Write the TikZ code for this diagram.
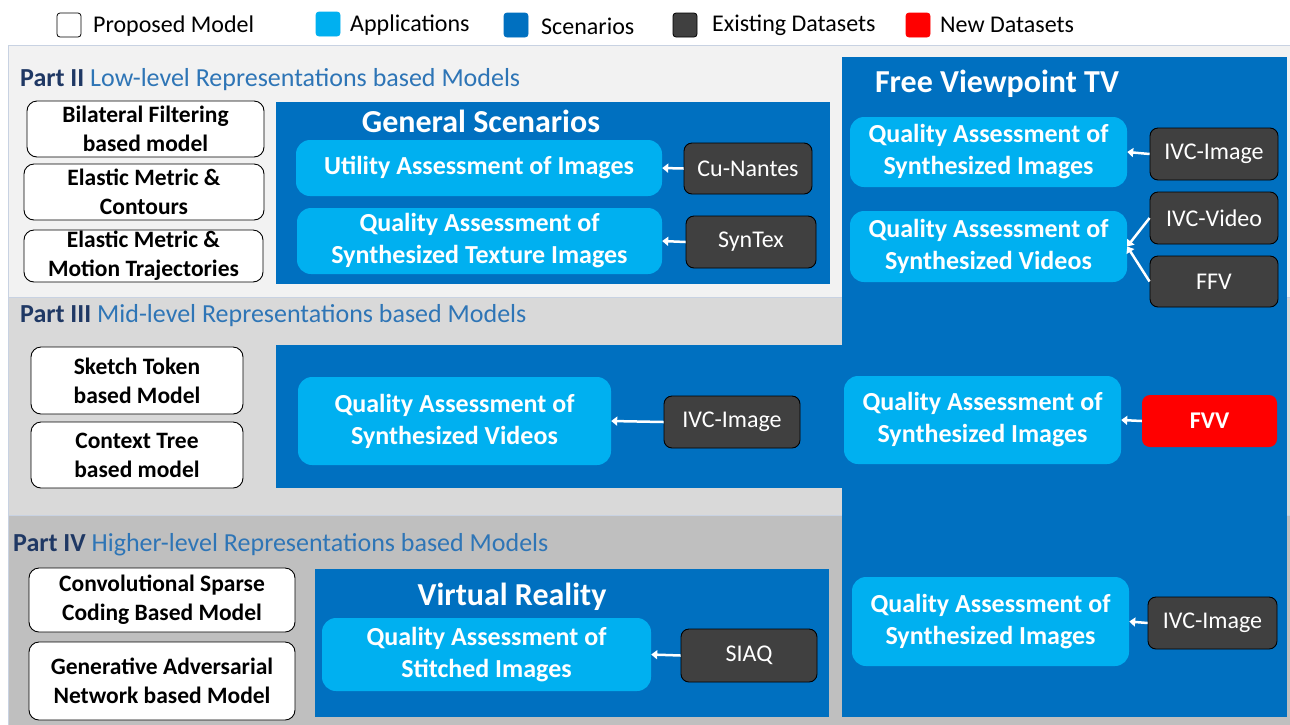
\documentclass[tikz,border=0pt]{standalone}
\usepackage{fontspec}
\setmainfont{Carlito}
\usetikzlibrary{arrows.meta}
\definecolor{ptwo}{HTML}{F2F2F2}
\definecolor{pthree}{HTML}{D9D9D9}
\definecolor{pfour}{HTML}{BFBFBF}
\definecolor{pline}{HTML}{C8D2E2}
\definecolor{scen}{HTML}{0070C0}
\definecolor{appc}{HTML}{00B0F0}
\definecolor{dsc}{HTML}{404040}
\definecolor{newc}{HTML}{FF0000}
\definecolor{navy}{HTML}{1F3864}
\definecolor{titleblue}{HTML}{2E75B6}
\newcommand{\placebox}[7]{\node[#1, minimum width={#5-#3}, minimum height={#6-#4}] (#2) at ({(#3+#5)/2},{(#4+#6)/2}) {#7};}
\begin{document}
\begin{tikzpicture}[x=1pt,y=-1pt,
  legsq/.style={minimum size=24pt, inner sep=0pt, rounded corners=3pt, line width=0.8pt},
  legtxt/.style={anchor=west, inner sep=0pt, font=\fontsize{24}{28}\selectfont},
  parttitle/.style={anchor=west, inner sep=0pt, font=\fontsize{26}{30}\selectfont},
  scentitle/.style={inner sep=0pt, text=white, font=\bfseries\fontsize{32}{36}\selectfont},
  modelbox/.style={draw=black, fill=white, line width=0.9pt, rounded corners=10pt, inner sep=0pt, align=center, font=\bfseries\fontsize{23.5}{29}\selectfont},
  appbox/.style={fill=appc, rounded corners=14pt, inner sep=0pt, align=center, text=white, font=\bfseries\fontsize{26}{32}\selectfont},
  dsbox/.style={fill=dsc, draw=black, line width=0.9pt, rounded corners=8pt, inner sep=0pt, align=center, text=white, font=\fontsize{24}{28}\selectfont},
  newbox/.style={fill=newc, rounded corners=8pt, inner sep=0pt, align=center, text=white, font=\bfseries\fontsize{24}{28}\selectfont},
  arr/.style={draw=white, line width=2.5pt, -{Triangle[length=6pt,width=9pt]}}
]
\useasboundingbox (0,0) rectangle (1290,724);
\fill[white] (0,0) rectangle (1290,724);

% part panels
\filldraw[fill=ptwo, draw=pline, line width=1pt] (8,45) rectangle (1294,297);
\filldraw[fill=pthree, draw=pline, line width=1pt] (8,297) rectangle (1294,515);
\filldraw[fill=pfour, draw=pline, line width=1pt] (8,515) rectangle (1294,730);

% scenario panels
\fill[scen] (842,57) rectangle (1287,717);
\fill[scen] (276,102) rectangle (830,284);
\fill[scen] (276,345) rectangle (846,488);
\fill[scen] (315,569) rectangle (829,717);

% legend
\node[legsq, fill=white, draw=black] (lg1) at (69,25) {};
\node[legtxt] (lt1) at (93,26) {Proposed Model};
\node[legsq, fill=appc, draw=appc] (lg2) at (328,24) {};
\node[legtxt] (lt2) at (350,25) {Applications};
\node[legsq, fill=scen, draw=scen] (lg3) at (516,25) {};
\node[legtxt] (lt3) at (541,26) {Scenarios};
\node[legsq, fill=dsc, draw=black] (lg4) at (685,25) {};
\node[legtxt] (lt4) at (712,25) {Existing Datasets};
\node[legsq, fill=newc, draw=newc] (lg5) at (918,25) {};
\node[legtxt] (lt5) at (940,25) {New Datasets};

% part titles
\node[parttitle] (t2) at (20,80) {\textbf{\color{navy}Part II} \color{titleblue}Low-level Representations based Models};
\node[parttitle] (t3) at (20,316) {\textbf{\color{navy}Part III} \color{titleblue}Mid-level Representations based Models};
\node[parttitle] (t4) at (13,545) {\textbf{\color{navy}Part IV} \color{titleblue}Higher-level Representations based Models};

% scenario titles
\node[scentitle] (sgen) at (481,121) {General Scenarios};
\node[scentitle] (sfv) at (997,84) {Free Viewpoint TV};
\node[scentitle] (svr) at (512,597) {Virtual Reality};

% models
\placebox{modelbox}{m1}{27}{101}{264}{157}{Bilateral Filtering\\based model}
\placebox{modelbox}{m2}{24}{164}{264}{220}{Elastic Metric \&\\Contours}
\placebox{modelbox}{m3}{24}{230}{263}{282}{Elastic Metric \&\\Motion Trajectories}
\placebox{modelbox}{m4}{31}{347}{243}{414}{Sketch Token\\based Model}
\placebox{modelbox}{m5}{31}{422}{243}{488}{Context Tree\\based model}
\placebox{modelbox}{m6}{29}{568}{295}{632}{Convolutional Sparse\\Coding Based Model}
\placebox{modelbox}{m7}{29}{642}{295}{720}{Generative Adversarial\\Network based Model}

% applications
\placebox{appbox}{a1}{296}{140}{662}{196}{Utility Assessment of Images}
\placebox{appbox}{a2}{297}{208}{662}{274}{Quality Assessment of\\Synthesized Texture Images}
\placebox{appbox}{a3}{850}{117}{1127}{187}{Quality Assessment of\\Synthesized Images}
\placebox{appbox}{a4}{850}{211}{1127}{282}{Quality Assessment of\\Synthesized Videos}
\placebox{appbox}{a5}{298}{377}{611}{465}{Quality Assessment of\\Synthesized Videos}
\placebox{appbox}{a6}{844}{376}{1121}{464}{Quality Assessment of\\Synthesized Images}
\placebox{appbox}{a7}{322}{618}{651}{691}{Quality Assessment of\\Stitched Images}
\placebox{appbox}{a8}{852}{577}{1129}{666}{Quality Assessment of\\Synthesized Images}

% datasets
\placebox{dsbox}{d1}{684}{143}{812}{194}{Cu-Nantes}
\placebox{dsbox}{d2}{686}{216}{816}{268}{SynTex}
\placebox{dsbox}{d3}{1150}{128}{1278}{180}{IVC-Image}
\placebox{dsbox}{d4}{1150}{192}{1278}{244}{IVC-Video}
\placebox{dsbox}{d5}{1150}{256}{1278}{307}{FFV}
\placebox{dsbox}{d6}{664}{396}{800}{448}{IVC-Image}
\placebox{newbox}{d7}{1142}{395}{1277}{447}{FVV}
\placebox{dsbox}{d8}{681}{629}{817}{682}{SIAQ}
\placebox{dsbox}{d9}{1148}{597}{1277}{649}{IVC-Image}

% arrows
\draw[arr] (d1.west) -- (a1.east);
\draw[arr] (d2.west) -- (a2.east);
\draw[arr] (d3.west) -- (a3.east);
\draw[arr] (d4.west) -- (a4.east);
\draw[arr] (d5.west) -- (a4.east);
\draw[arr] (d6.west) -- (a5.east);
\draw[arr] (d7.west) -- (a6.east);
\draw[arr] (d8.west) -- (a7.east);
\draw[arr] (d9.west) -- (a8.east);
\end{tikzpicture}
\end{document}
